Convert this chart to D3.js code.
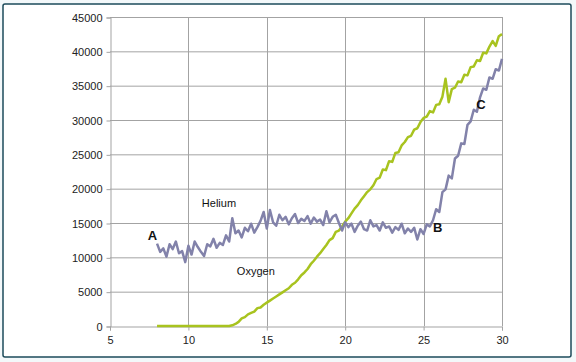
<!DOCTYPE html>
<html>
<head>
<meta charset="utf-8">
<script src="https://cdn.jsdelivr.net/npm/d3@7"></script>
<style>
  html, body { margin: 0; padding: 0; background: #f3f8fa; }
  svg { display: block; }
  text { font-family: "Liberation Sans", Arial, sans-serif; }
</style>
</head>
<body>
<svg id="chart" width="576" height="362"></svg>
<script>
// ---- data ----
const xStart = 8, xStep = 0.2;
const helium = [
  12000,10800,11300,10100,11900,11200,12300,10600,10900,9300,
  11700,10400,12300,11500,10800,10200,11900,11600,12700,11400,
  12100,11800,13200,12300,15700,13500,13900,12900,14300,13800,
  14900,13600,14400,15300,16600,14200,16900,15100,14600,16200,
  15400,15900,14800,15700,16300,15000,15600,15300,16000,14900,
  15800,15200,15500,14700,16700,15100,15900,16200,15000,13900,
  15100,14400,14900,13700,14600,15200,14100,13900,15400,14500,
  14700,13900,15100,14300,14500,13600,14400,14000,14900,13500,
  14200,13700,14300,12600,14100,13400,14800,14500,15400,17000,
  16600,19500,19900,21900,21500,24400,24800,26600,26500,29300,
  29800,31500,31200,33300,34600,34400,36200,36000,37400,37200,
  38900
];
const oxygen = [
  0,0,0,0,0,0,0,0,0,0,
  0,0,0,0,0,0,0,0,0,0,
  0,0,0,0,100,300,600,1100,1300,1700,
  1900,2100,2600,2700,3100,3400,3700,4000,4300,4600,
  4900,5200,5500,6000,6300,6800,7400,7800,8300,9000,
  9500,10100,10600,11200,11800,12500,12800,13700,13900,14500,
  15200,15700,16400,17100,17600,18300,18900,19500,19900,20500,
  21400,21600,22800,22700,24000,23900,25200,25300,26300,26800,
  27500,27700,28600,28800,29700,30300,30500,31300,31100,32200,
  32300,33400,36000,32600,34500,34700,35600,35500,36600,36500,
  37700,37800,38700,38600,39800,39700,40700,41500,40800,42200,
  42500
];
const xTicks = [5, 10, 15, 20, 25, 30];
const yTicks = [0, 5000, 10000, 15000, 20000, 25000, 30000, 35000, 40000, 45000];
const labels = [
  { text: "A", x: 7.7, y: 13250, bold: true },
  { text: "B", x: 25.9, y: 14400, bold: true },
  { text: "C", x: 28.66, y: 32300, bold: true },
  { text: "Helium", x: 11.95, y: 17900, bold: false },
  { text: "Oxygen", x: 14.3, y: 8000, bold: false }
];

// ---- chart ----
const svg = d3.select("#chart");
const mLeft = 110, mRight = 502, mTop = 17, mBottom = 326;
const x = d3.scaleLinear().domain([5, 30]).range([mLeft, mRight]);
const y = d3.scaleLinear().domain([0, 45000]).range([mBottom, mTop]);

// frame
svg.append("rect").attr("x", 3).attr("y", 4).attr("width", 568).attr("height", 353)
  .attr("rx", 2).attr("fill", "#ffffff").attr("stroke", "#1d4b5b").attr("stroke-width", 1.5);

const gridColor = "#a3a3a3";
// horizontal grid
svg.append("g").selectAll("line").data(yTicks.filter(d => d > 0)).join("line")
  .attr("x1", mLeft).attr("x2", mRight)
  .attr("y1", d => y(d) + 0.5).attr("y2", d => y(d) + 0.5)
  .attr("stroke", gridColor).attr("stroke-width", 1);
// vertical grid
svg.append("g").selectAll("line").data(xTicks.filter(d => d > 5)).join("line")
  .attr("x1", d => Math.round(x(d)) + 0.5).attr("x2", d => Math.round(x(d)) + 0.5)
  .attr("y1", mTop).attr("y2", mBottom)
  .attr("stroke", gridColor).attr("stroke-width", 1);

// axes
const yAxis = d3.axisLeft(y).tickValues(yTicks).tickSize(4).tickPadding(4).tickFormat(d3.format("d"));
const xAxis = d3.axisBottom(x).tickValues(xTicks).tickSize(4).tickPadding(6).tickFormat(d3.format("d"));
const gy = svg.append("g").attr("transform", `translate(${mLeft + 0.5},0.5)`).call(yAxis);
const gx = svg.append("g").attr("transform", `translate(0,${mBottom + 0.5})`).call(xAxis);
[gx, gy].forEach(g => {
  g.select(".domain").attr("stroke", gridColor);
  g.selectAll(".tick line").attr("stroke", gridColor);
  g.selectAll(".tick text").attr("fill", "#222").attr("font-size", 11);
});

// lines
const line = d3.line().x((d, i) => x(xStart + i * xStep)).y(d => y(d));
svg.append("path").datum(oxygen).attr("d", line).attr("fill", "none")
  .attr("stroke", "#a8c31f").attr("stroke-width", 2.5).attr("stroke-linejoin", "round");
svg.append("path").datum(helium).attr("d", line).attr("fill", "none")
  .attr("stroke", "#8282aa").attr("stroke-width", 2.5).attr("stroke-linejoin", "round");

// annotations
svg.append("g").selectAll("text").data(labels).join("text")
  .attr("x", d => x(d.x)).attr("y", d => y(d.y))
  .attr("text-anchor", "middle").attr("dominant-baseline", "central")
  .attr("font-size", d => d.bold ? 13 : 11)
  .attr("font-weight", d => d.bold ? "bold" : "normal")
  .attr("fill", "#111")
  .text(d => d.text);
</script>
</body>
</html>
